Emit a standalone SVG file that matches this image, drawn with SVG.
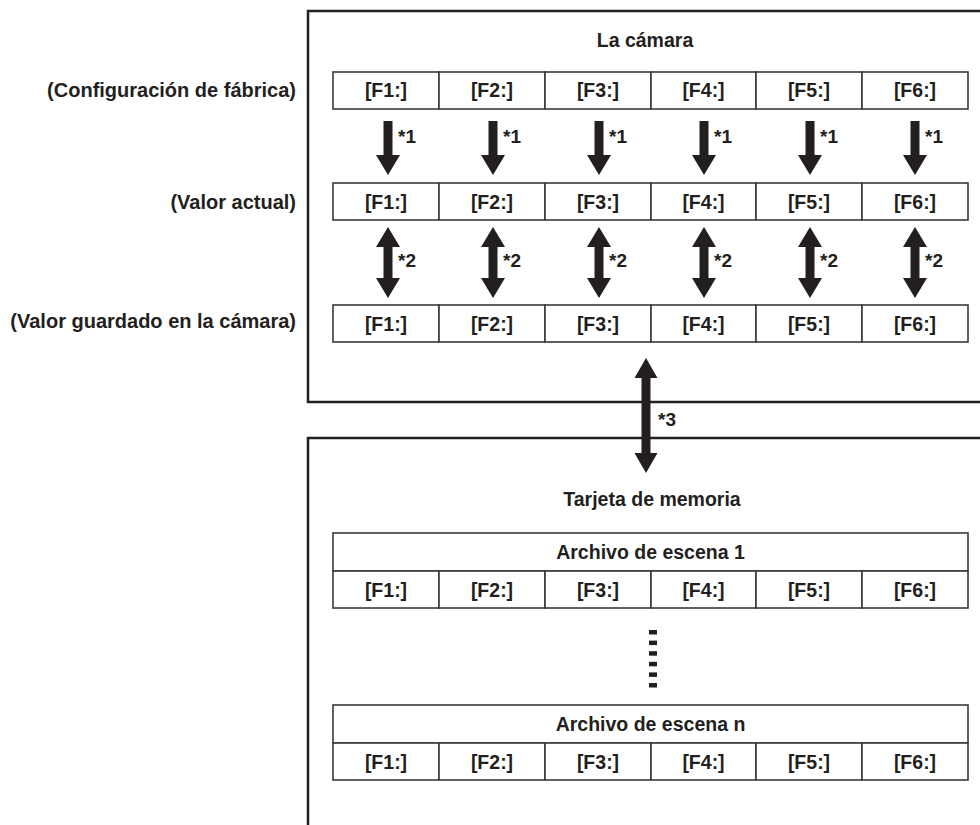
<svg xmlns="http://www.w3.org/2000/svg" width="980" height="825" viewBox="0 0 980 825">
<style>
text{font-family:"Liberation Sans",Arial,sans-serif;font-weight:bold;fill:#231f20}
.c{font-size:19.5px;text-anchor:middle}
.l{font-size:20px;text-anchor:end}
.n{font-size:19px}
.box{fill:none;stroke:#231f20;stroke-width:2.5}
.cell{fill:#fff;stroke:#3a3a3a;stroke-width:1.6}
.arr{fill:#231f20}
</style>
<rect width="980" height="825" fill="#fff"/>
<g id="camera">
<rect class="box" x="308" y="11" width="700" height="391"/>
<text class="c" x="645" y="47">La cámara</text>
</g>
<g id="memory">
<rect class="box" x="308" y="438" width="700" height="420"/>
<text class="c" x="652" y="506">Tarjeta de memoria</text>
</g>
<g id="labels">
<text class="l" x="296" y="97">(Configuración de fábrica)</text>
<text class="l" x="296" y="209">(Valor actual)</text>
<text class="l" x="296" y="328">(Valor guardado en la cámara)</text>
</g>
<g id="row-factory">
<rect class="cell" x="333" y="72" width="106" height="37"/><text class="c" x="386" y="97">[F1:]</text>
<rect class="cell" x="439" y="72" width="106" height="37"/><text class="c" x="492" y="97">[F2:]</text>
<rect class="cell" x="545" y="72" width="106" height="37"/><text class="c" x="598" y="97">[F3:]</text>
<rect class="cell" x="651" y="72" width="105" height="37"/><text class="c" x="703.5" y="97">[F4:]</text>
<rect class="cell" x="756" y="72" width="106" height="37"/><text class="c" x="809" y="97">[F5:]</text>
<rect class="cell" x="862" y="72" width="106" height="37"/><text class="c" x="915" y="97">[F6:]</text>
</g>
<g id="row-current">
<rect class="cell" x="333" y="183" width="106" height="37"/><text class="c" x="386" y="208.5">[F1:]</text>
<rect class="cell" x="439" y="183" width="106" height="37"/><text class="c" x="492" y="208.5">[F2:]</text>
<rect class="cell" x="545" y="183" width="106" height="37"/><text class="c" x="598" y="208.5">[F3:]</text>
<rect class="cell" x="651" y="183" width="105" height="37"/><text class="c" x="703.5" y="208.5">[F4:]</text>
<rect class="cell" x="756" y="183" width="106" height="37"/><text class="c" x="809" y="208.5">[F5:]</text>
<rect class="cell" x="862" y="183" width="106" height="37"/><text class="c" x="915" y="208.5">[F6:]</text>
</g>
<g id="row-saved">
<rect class="cell" x="333" y="305" width="106" height="37"/><text class="c" x="386" y="331">[F1:]</text>
<rect class="cell" x="439" y="305" width="106" height="37"/><text class="c" x="492" y="331">[F2:]</text>
<rect class="cell" x="545" y="305" width="106" height="37"/><text class="c" x="598" y="331">[F3:]</text>
<rect class="cell" x="651" y="305" width="105" height="37"/><text class="c" x="703.5" y="331">[F4:]</text>
<rect class="cell" x="756" y="305" width="106" height="37"/><text class="c" x="809" y="331">[F5:]</text>
<rect class="cell" x="862" y="305" width="106" height="37"/><text class="c" x="915" y="331">[F6:]</text>
</g>
<g id="scene-1">
<rect class="cell" x="333" y="533" width="635" height="38"/><text class="c" x="650.5" y="559">Archivo de escena 1</text>
<rect class="cell" x="333" y="571" width="106" height="37"/><text class="c" x="386" y="596.5">[F1:]</text>
<rect class="cell" x="439" y="571" width="106" height="37"/><text class="c" x="492" y="596.5">[F2:]</text>
<rect class="cell" x="545" y="571" width="106" height="37"/><text class="c" x="598" y="596.5">[F3:]</text>
<rect class="cell" x="651" y="571" width="105" height="37"/><text class="c" x="703.5" y="596.5">[F4:]</text>
<rect class="cell" x="756" y="571" width="106" height="37"/><text class="c" x="809" y="596.5">[F5:]</text>
<rect class="cell" x="862" y="571" width="106" height="37"/><text class="c" x="915" y="596.5">[F6:]</text>
</g>
<g id="ellipsis">
<rect class="arr" x="649" y="630" width="8" height="4.5"/>
<rect class="arr" x="649" y="640.6" width="8" height="4.5"/>
<rect class="arr" x="649" y="651.2" width="8" height="4.5"/>
<rect class="arr" x="649" y="661.8" width="8" height="4.5"/>
<rect class="arr" x="649" y="672.4" width="8" height="4.5"/>
<rect class="arr" x="649" y="683" width="8" height="4.5"/>
</g>
<g id="scene-n">
<rect class="cell" x="333" y="705" width="635" height="38"/><text class="c" x="650.5" y="731">Archivo de escena n</text>
<rect class="cell" x="333" y="743" width="106" height="37"/><text class="c" x="386" y="768.5">[F1:]</text>
<rect class="cell" x="439" y="743" width="106" height="37"/><text class="c" x="492" y="768.5">[F2:]</text>
<rect class="cell" x="545" y="743" width="106" height="37"/><text class="c" x="598" y="768.5">[F3:]</text>
<rect class="cell" x="651" y="743" width="105" height="37"/><text class="c" x="703.5" y="768.5">[F4:]</text>
<rect class="cell" x="756" y="743" width="106" height="37"/><text class="c" x="809" y="768.5">[F5:]</text>
<rect class="cell" x="862" y="743" width="106" height="37"/><text class="c" x="915" y="768.5">[F6:]</text>
</g>
<defs>
<polygon id="down" points="-4.5,0 4.5,0 4.5,34 12,34 0,54 -12,34 -4.5,34"/>
<polygon id="both" points="0,0 12,20 4.5,20 4.5,51 12,51 0,71 -12,51 -4.5,51 -4.5,20 -12,20"/>
</defs>
<g id="connectors" class="arr">
<use href="#down" x="388" y="121"/><text class="n" x="398" y="143">*1</text>
<use href="#down" x="493" y="121"/><text class="n" x="503" y="143">*1</text>
<use href="#down" x="599" y="121"/><text class="n" x="609" y="143">*1</text>
<use href="#down" x="704" y="121"/><text class="n" x="714" y="143">*1</text>
<use href="#down" x="810" y="121"/><text class="n" x="820" y="143">*1</text>
<use href="#down" x="915" y="121"/><text class="n" x="925" y="143">*1</text>
<use href="#both" x="388" y="227"/><text class="n" x="398" y="267">*2</text>
<use href="#both" x="493" y="227"/><text class="n" x="503" y="267">*2</text>
<use href="#both" x="599" y="227"/><text class="n" x="609" y="267">*2</text>
<use href="#both" x="704" y="227"/><text class="n" x="714" y="267">*2</text>
<use href="#both" x="810" y="227"/><text class="n" x="820" y="267">*2</text>
<use href="#both" x="915" y="227"/><text class="n" x="925" y="267">*2</text>
<polygon points="646,358 657.5,378 650.5,378 650.5,453 657.5,453 646,473 634.5,453 641.5,453 641.5,378 634.5,378"/>
<text class="n" x="658" y="426">*3</text>
</g>
</svg>
